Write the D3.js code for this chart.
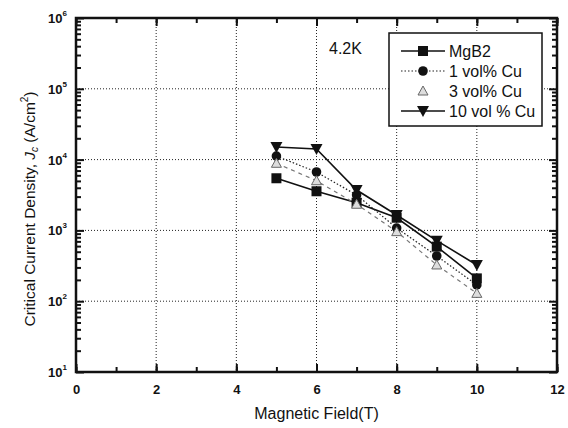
<!DOCTYPE html>
<html>
<head>
<meta charset="utf-8">
<script src="https://cdn.jsdelivr.net/npm/d3@7"></script>
<style>
  body { margin: 0; background: #fff; }
  svg { font-family: Arial, "Liberation Sans", sans-serif; }
</style>
</head>
<body>
<svg id="chart" width="568" height="428"></svg>
<script>
const field = [5, 6, 7, 8, 9, 10]
const mgb2 = [5450, 3570, 2460, 1510, 590, 210]
const cu1 = [11200, 6680, 3160, 1080, 435, 170]
const cu3 = [8870, 5030, 2340, 960, 325, 129]
const cu10 = [15100, 14100, 3720, 1650, 716, 325]
const xTicks = [0, 2, 4, 6, 8, 10, 12]
const yExps = [1, 2, 3, 4, 5, 6]

const series = [
  { name: "MgB2", values: mgb2, dash: null, stroke: "#111", symbol: "square" },
  { name: "1 vol% Cu", values: cu1, dash: "1.5,2", stroke: "#222", symbol: "circle" },
  { name: "3 vol% Cu", values: cu3, dash: "4,4", stroke: "#777", symbol: "triangle" },
  { name: "10 vol % Cu", values: cu10, dash: null, stroke: "#111", symbol: "down" }
]

const svg = d3.select("#chart")

const x = d3.scaleLinear().domain([0, 12]).range([76, 557])
const y = d3.scaleLog().domain([10, 1e6]).range([372, 18])

// grid
const grid = svg.append("g")
grid.selectAll("line.gx")
  .data(xTicks.slice(1, -1))
  .join("line")
  .attr("x1", d => x(d)).attr("x2", d => x(d))
  .attr("y1", y(1e6)).attr("y2", y(10))
  .attr("stroke", "#222").attr("stroke-width", 1).attr("stroke-dasharray", "1,2")
grid.selectAll("line.gy")
  .data(yExps.slice(1, -1))
  .join("line")
  .attr("x1", x(0)).attr("x2", x(12))
  .attr("y1", d => y(Math.pow(10, d))).attr("y2", d => y(Math.pow(10, d)))
  .attr("stroke", "#222").attr("stroke-width", 1).attr("stroke-dasharray", "1,2")

// axes with inward ticks
const minorX = d3.range(0, 13, 1)
const minorY = []
for (let e = 1; e < 6; e++) for (let m = 2; m < 10; m++) minorY.push(m * Math.pow(10, e))
const majorY = yExps.map(e => Math.pow(10, e))

svg.append("g").attr("transform", `translate(0,${y(10)})`)
  .call(d3.axisBottom(x).tickValues(minorX).tickSize(-5).tickFormat(""))
svg.append("g").attr("transform", `translate(0,${y(10)})`)
  .call(d3.axisBottom(x).tickValues(xTicks).tickSize(-8).tickPadding(13).tickFormat(d3.format("d")))
  .call(g => g.selectAll("text").attr("font-size", 13).attr("font-weight", "bold").attr("fill", "#111"))
svg.append("g").attr("transform", `translate(0,${y(1e6)})`)
  .call(d3.axisTop(x).tickValues(minorX).tickSize(-5).tickFormat(""))
svg.append("g").attr("transform", `translate(0,${y(1e6)})`)
  .call(d3.axisTop(x).tickValues(xTicks).tickSize(-8).tickFormat(""))

svg.append("g").attr("transform", `translate(${x(0)},0)`)
  .call(d3.axisLeft(y).tickValues(minorY).tickSize(-5).tickFormat(""))
svg.append("g").attr("transform", `translate(${x(0)},0)`)
  .call(d3.axisLeft(y).tickValues(majorY).tickSize(-8).tickFormat(""))
svg.append("g").attr("transform", `translate(${x(12)},0)`)
  .call(d3.axisRight(y).tickValues(minorY).tickSize(-5).tickFormat(""))
svg.append("g").attr("transform", `translate(${x(12)},0)`)
  .call(d3.axisRight(y).tickValues(majorY).tickSize(-8).tickFormat(""))

svg.selectAll(".domain").remove()
svg.selectAll(".tick line").attr("stroke", "#111").attr("stroke-width", 2)

// y tick labels 10^n
const yl = svg.append("g")
yExps.forEach(e => {
  const t = yl.append("text")
    .attr("x", x(0) - 9).attr("y", y(Math.pow(10, e)) + 5)
    .attr("text-anchor", "end").attr("font-size", 13).attr("font-weight", "bold").attr("fill", "#111")
  t.append("tspan").text("10")
  t.append("tspan").attr("font-size", 8).attr("dy", -7).text(e)
})

// frame
svg.append("rect")
  .attr("x", x(0)).attr("y", y(1e6))
  .attr("width", x(12) - x(0)).attr("height", y(10) - y(1e6))
  .attr("fill", "none").attr("stroke", "#111").attr("stroke-width", 2.5)

// symbols
function drawSymbol(g, type, cx, cy) {
  if (type === "square") {
    g.append("rect").attr("x", cx - 5).attr("y", cy - 5).attr("width", 10).attr("height", 10).attr("fill", "#111")
  } else if (type === "circle") {
    g.append("circle").attr("cx", cx).attr("cy", cy).attr("r", 4.8).attr("fill", "#111")
  } else if (type === "triangle") {
    g.append("path").attr("d", `M${cx},${cy - 5}L${cx + 5},${cy + 4}L${cx - 5},${cy + 4}Z`)
      .attr("fill", "#ddd").attr("stroke", "#666").attr("stroke-width", 1)
  } else {
    g.append("path").attr("d", `M${cx - 6},${cy - 5}L${cx + 6},${cy - 5}L${cx},${cy + 6}Z`).attr("fill", "#111")
  }
}

const line = d3.line().x((d, i) => x(field[i])).y(d => y(d))

series.forEach(s => {
  svg.append("path")
    .datum(s.values)
    .attr("d", line)
    .attr("fill", "none")
    .attr("stroke", s.stroke)
    .attr("stroke-width", s.dash ? 1.2 : 1.6)
    .attr("stroke-dasharray", s.dash)
})
series.forEach(s => {
  const g = svg.append("g")
  s.values.forEach((v, i) => drawSymbol(g, s.symbol, x(field[i]), y(v)))
})

// legend
const lg = svg.append("g")
lg.append("rect").attr("x", 389).attr("y", 33).attr("width", 153).attr("height", 93)
  .attr("fill", "#fff").attr("stroke", "#111").attr("stroke-width", 1.5)
series.forEach((s, i) => {
  const ly = 51 + i * 20
  if (s.symbol !== "triangle") {
    lg.append("line").attr("x1", 401).attr("x2", 445).attr("y1", ly).attr("y2", ly)
      .attr("stroke", s.stroke).attr("stroke-width", s.dash ? 1.2 : 1.6).attr("stroke-dasharray", s.dash)
  }
  drawSymbol(lg, s.symbol, 423, ly)
  lg.append("text").attr("x", 449).attr("y", ly + 6).attr("font-size", 16).attr("fill", "#111").text(s.name)
})

svg.append("text").attr("x", 329).attr("y", 54).attr("font-size", 16).attr("fill", "#111").text("4.2K")

// axis titles
svg.append("text").attr("x", (x(0) + x(12)) / 2).attr("y", 419)
  .attr("text-anchor", "middle").attr("font-size", 16).attr("fill", "#111").text("Magnetic Field(T)")
const yt = svg.append("text")
  .attr("transform", `translate(35,${(y(10) + y(1e6)) / 2 + 14}) rotate(-90)`)
  .attr("text-anchor", "middle").attr("font-size", 15.5).attr("fill", "#111")
yt.append("tspan").text("Critical Current Density, ")
yt.append("tspan").attr("font-style", "italic").text("J")
yt.append("tspan").attr("font-size", 10).attr("dy", 3).attr("font-style", "italic").text("c")
yt.append("tspan").attr("dy", -3).text(" (A/cm")
yt.append("tspan").attr("font-size", 10).attr("dy", -7).text("2")
yt.append("tspan").attr("dy", 7).text(")")
</script>
</body>
</html>
